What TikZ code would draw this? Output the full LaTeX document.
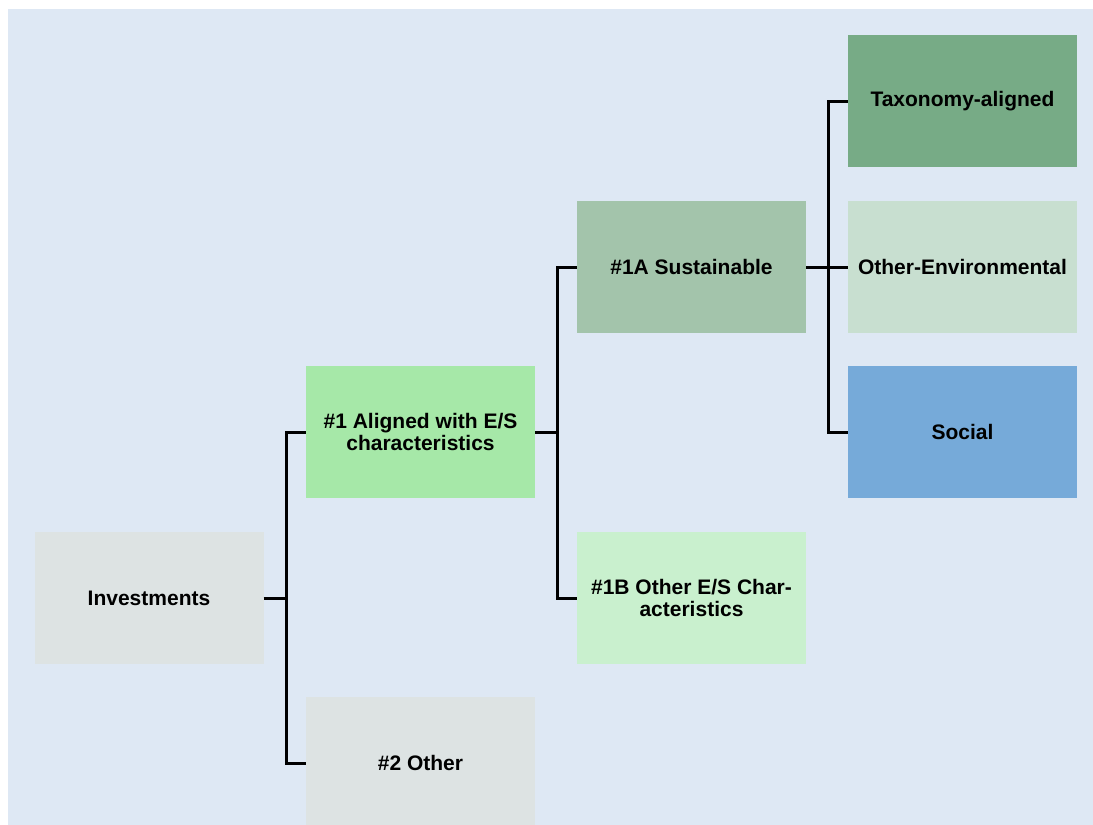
\documentclass[tikz,border=0pt]{standalone}
\usepackage{fontspec}
\setmainfont{Liberation Sans}
\definecolor{bgblue}{HTML}{DEE8F4}
\definecolor{greybox}{HTML}{DDE3E3}
\definecolor{alignedgreen}{HTML}{A6E8A8}
\definecolor{sustgreen}{HTML}{A3C4AB}
\definecolor{otheresgreen}{HTML}{C9F0CE}
\definecolor{taxgreen}{HTML}{77AB86}
\definecolor{envgreen}{HTML}{C8DFD0}
\definecolor{socialblue}{HTML}{76AAD9}
\tikzset{
  box/.style={rectangle, inner sep=0pt, minimum width=229pt, minimum height=132pt,
    align=center, font=\fontsize{21}{22}\selectfont\bfseries, text=black},
  conn/.style={draw=black, line width=3pt, line cap=butt, line join=miter}
}
\begin{document}
\begin{tikzpicture}[x=1pt,y=-1pt]
\useasboundingbox (0,0) rectangle (1093,825);
\clip (0,0) rectangle (1093,825);
\fill[bgblue] (8,9) rectangle (1093,825);
\node[box, fill=greybox] (inv) at (149,598) {Investments};
\node[box, fill=alignedgreen] (al) at (420.5,432) {\#1 Aligned with E/S\\characteristics};
\node[box, fill=greybox] (oth) at (420.5,763) {\#2 Other};
\node[box, fill=sustgreen] (sus) at (691.5,267) {\#1A Sustainable};
\node[box, fill=otheresgreen] (oes) at (691.5,598) {\#1B Other E/S Char-\\acteristics};
\node[box, fill=taxgreen] (tax) at (962.5,101) {Taxonomy-aligned};
\node[box, fill=envgreen] (env) at (962.5,267) {Other-Environmental};
\node[box, fill=socialblue] (soc) at (962.5,432) {Social};
\coordinate (t1) at ([xshift=23pt]inv.east);
\coordinate (t2) at ([xshift=22pt]al.east);
\coordinate (t3) at ([xshift=22pt]sus.east);
\draw[conn] (inv.east) -- (t1);
\draw[conn] (t1) |- (al.west);
\draw[conn] (t1) |- (oth.west);
\draw[conn] (al.east) -- (t2);
\draw[conn] (t2) |- (sus.west);
\draw[conn] (t2) |- (oes.west);
\draw[conn] (sus.east) -- (env.west);
\draw[conn] (t3) |- (tax.west);
\draw[conn] (t3) |- (soc.west);
\end{tikzpicture}
\end{document}
